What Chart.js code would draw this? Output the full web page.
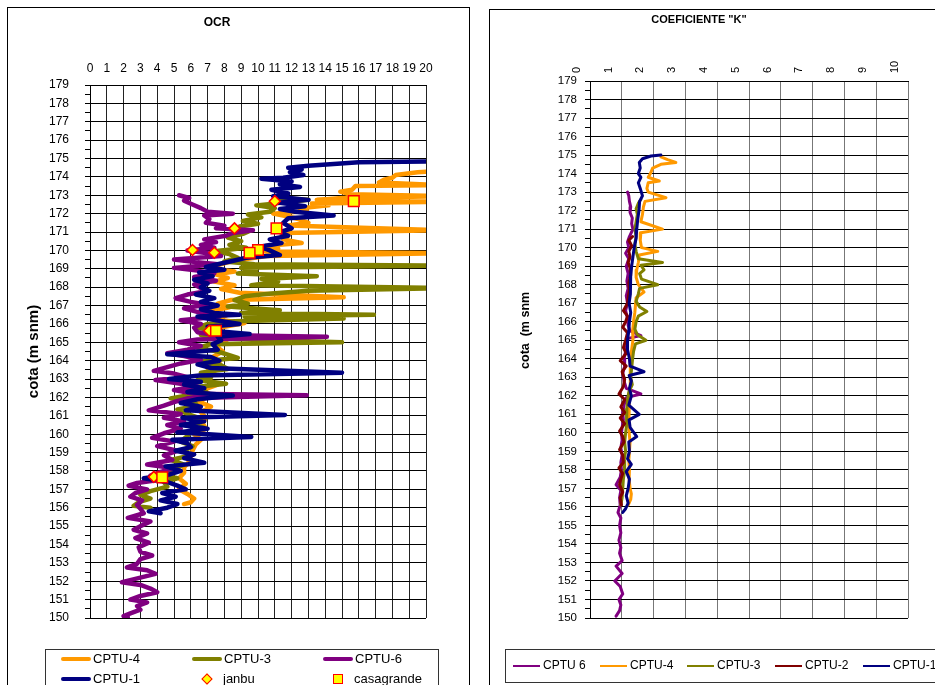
<!DOCTYPE html>
<html>
<head>
<meta charset="utf-8" />
<title>OCR y coeficiente K</title>
<script src="https://cdn.jsdelivr.net/npm/chart.js"></script>
<style>
  body { margin: 0; background: #fff; font-family: 'Liberation Sans', Arial, sans-serif; color: #000; }
  .panel { position: absolute; border: 1px solid #000; background: #fff; overflow: hidden; }
  .legend { position: absolute; border: 1px solid #333; background: #fff; }
  .item { position: absolute; white-space: nowrap; }
  .ln { position: absolute; }
</style>
</head>
<body>
<div class="panel" style="left:7px; top:7px; width:461px; height:700px;">
  <canvas id="ocrChart" width="461" height="677"></canvas>
</div>
<div class="panel" style="left:489px; top:9px; width:480px; height:700px;">
  <canvas id="kChart" width="480" height="675"></canvas>
</div>
<div id="legends"></div>
<script>
const FONT = "'Liberation Sans', Arial, sans-serif";

// cota range (m snm)
const cotaMin = 150;
const cotaMax = 179;

// ---- OCR panel: [cota, OCR] ----
const ocrCptu4 = [
  [174.35, 21], [174.25, 19.5], [174.1, 18.2], [173.95, 18], [173.85, 17.5], [173.7, 17.2], [173.55, 21],
  [173.5, 15.8], [173.3, 15.6], [173.2, 14.9], [173.05, 15.5], [172.95, 21], [172.85, 15], [172.75, 13.5],
  [172.65, 21], [172.55, 13.2], [172.45, 14.2], [172.3, 12.5], [172.15, 12.9], [172.0, 10.9], [171.85, 11.8],
  [171.7, 12.4], [171.5, 13], [171.35, 11.8], [171.1, 21], [170.95, 11.5], [170.8, 11.8], [170.6, 11.5],
  [170.4, 12.6], [170.25, 10.5], [170.1, 11.2], [169.95, 9.8], [169.85, 21], [169.7, 10.5], [169.55, 9.4],
  [169.35, 8.2], [169.2, 7.6], [169.0, 7.2], [168.85, 8.6], [168.7, 7.5], [168.5, 8.2], [168.3, 7.4],
  [168.1, 8.6], [167.9, 7.8], [167.7, 8.9], [167.45, 15.1], [167.3, 8.4], [167.1, 7.6], [166.9, 8.3],
  [166.7, 7.2], [166.45, 8.1], [166.25, 7.4], [166.05, 9.2], [165.85, 8.0], [165.65, 7.6], [165.45, 8.3],
  [165.25, 7.8], [165.05, 8.1], [164.8, 7.5], [164.5, 7.9], [164.2, 7.3], [163.9, 7.7], [163.6, 7.0],
  [163.3, 7.4], [163.0, 6.9], [162.7, 7.6], [162.4, 6.7], [162.1, 7.3], [161.8, 6.4], [161.5, 7.2],
  [161.2, 6.6], [160.9, 6.9], [160.6, 6.7], [160.3, 6.9], [160.0, 6.2], [159.7, 6.6], [159.45, 6.3],
  [159.1, 6.1], [158.8, 6.0], [158.5, 5.9], [158.2, 5.6], [157.9, 5.6], [157.6, 5.3], [157.3, 5.7],
  [157.0, 5.3], [156.75, 5.8], [156.5, 6.2], [156.3, 6.0], [156.2, 5.6]
];
const ocrCptu3 = [
  [172.85, 11.2], [172.75, 13.0], [172.6, 11.5], [172.45, 9.9], [172.3, 11.0], [172.1, 10.7], [171.95, 9.4],
  [171.8, 10.2], [171.6, 9.1], [171.45, 10.0], [171.3, 8.9], [171.1, 9.6], [170.9, 9.1], [170.7, 8.2],
  [170.5, 9.0], [170.3, 8.3], [170.15, 9.3], [169.95, 7.4], [169.8, 8.3], [169.6, 8.8], [169.4, 8.0],
  [169.25, 9.8], [169.17, 21], [169.05, 9.0], [168.9, 9.9], [168.75, 8.8], [168.6, 13.5], [168.45, 10.2],
  [168.3, 11.2], [168.1, 9.6], [167.95, 21], [167.8, 13.0], [167.65, 10.8], [167.5, 9.2], [167.3, 8.6],
  [167.1, 9.4], [166.95, 8.2], [166.75, 11.3], [166.6, 9.0], [166.5, 16.9], [166.4, 9.2], [166.3, 15.1],
  [166.15, 8.6], [166.0, 7.0], [165.8, 6.4], [165.6, 7.4], [165.4, 6.6], [165.2, 7.5], [165.0, 15.0],
  [164.9, 7.2], [164.7, 6.4], [164.5, 7.6], [164.15, 8.8], [163.95, 6.4], [163.75, 7.8], [163.55, 8.2],
  [163.35, 6.6], [163.1, 7.2], [162.95, 6.4], [162.75, 8.1], [162.55, 6.2], [162.3, 6.9], [161.95, 4.8],
  [161.75, 6.2], [161.55, 6.4], [161.35, 5.2], [161.1, 5.8], [160.85, 6.6], [160.6, 6.0], [160.35, 6.8],
  [160.1, 6.0], [159.9, 5.8], [159.6, 5.4], [159.35, 6.1], [159.1, 5.6], [158.85, 6.0], [158.6, 4.8],
  [158.35, 5.6], [158.1, 5.0], [157.85, 4.0], [157.6, 5.2], [157.4, 4.4], [157.15, 4.6], [156.9, 3.6],
  [156.7, 3.0], [156.5, 3.6], [156.3, 2.9], [156.1, 2.6], [156.0, 3.6]
];
const ocrCptu6 = [
  [173.0, 5.3], [172.85, 5.9], [172.7, 5.6], [172.5, 6.1], [172.3, 6.6], [172.1, 7.0], [172.0, 8.5],
  [171.9, 6.8], [171.7, 7.1], [171.5, 6.9], [171.35, 8.0], [171.2, 7.5], [171.1, 9.7], [170.95, 8.5],
  [170.8, 8.1], [170.6, 6.8], [170.45, 7.5], [170.3, 6.6], [170.15, 7.4], [170.0, 5.8], [169.85, 7.0],
  [169.7, 7.8], [169.5, 5.0], [169.35, 6.4], [169.25, 7.6], [169.05, 5.0], [168.9, 6.4], [168.75, 7.4],
  [168.55, 6.2], [168.35, 7.5], [168.15, 6.2], [167.95, 6.6], [167.8, 7.0], [167.6, 5.8], [167.4, 5.1],
  [167.2, 6.0], [167.05, 7.0], [166.85, 5.6], [166.6, 6.6], [166.4, 7.7], [166.2, 5.4], [166.0, 6.6],
  [165.8, 6.2], [165.55, 6.4], [165.4, 7.4], [165.3, 14.1], [165.15, 6.4], [165.0, 5.3], [164.8, 6.6],
  [164.6, 5.8], [164.4, 4.6], [164.25, 5.6], [164.05, 6.6], [163.85, 5.4], [163.65, 4.6], [163.45, 3.8],
  [163.3, 5.0], [163.1, 5.8], [162.95, 3.9], [162.75, 5.4], [162.6, 6.4], [162.4, 5.0], [162.2, 6.2],
  [162.12, 12.9], [161.95, 5.8], [161.75, 5.0], [161.55, 4.4], [161.3, 3.5], [161.1, 5.4], [160.9, 4.4],
  [160.7, 5.6], [160.5, 4.6], [160.3, 5.4], [160.05, 4.4], [159.8, 3.7], [159.6, 5.0], [159.35, 4.0],
  [159.1, 5.2], [158.85, 4.4], [158.6, 4.9], [158.35, 3.4], [158.15, 5.0], [157.95, 4.2], [157.75, 3.6],
  [157.55, 4.4], [157.35, 2.8], [157.2, 2.3], [157.0, 3.4], [156.8, 2.7], [156.6, 2.4], [156.4, 3.1],
  [156.15, 2.8], [155.95, 3.0], [155.7, 3.2], [155.45, 2.25], [155.25, 3.6], [155.0, 3.0], [154.8, 2.6],
  [154.6, 3.4], [154.35, 2.7], [154.1, 3.5], [153.85, 2.9], [153.6, 3.0], [153.4, 3.7], [153.2, 3.0],
  [152.95, 2.8], [152.75, 2.2], [152.6, 3.4], [152.4, 3.9], [152.2, 3.0], [151.95, 1.9], [151.8, 3.0],
  [151.6, 3.6], [151.4, 4.0], [151.2, 3.0], [151.0, 2.4], [150.85, 3.4], [150.65, 2.8], [150.45, 3.0],
  [150.25, 2.4], [150.1, 2.0], [150.05, 2.25]
];
const ocrCptu1 = [
  [174.85, 21], [174.8, 16], [174.6, 13], [174.5, 11.8], [174.4, 12.6], [174.25, 11.9], [174.1, 12.7],
  [173.95, 11.5], [173.9, 10.2], [173.75, 12], [173.6, 11.3], [173.45, 12.5], [173.3, 10.8], [173.1, 11.8],
  [172.95, 10.9], [172.75, 13], [172.6, 11.2], [172.4, 12.8], [172.25, 11.3], [172.1, 12.2], [171.9, 14.5],
  [171.75, 11.8], [171.5, 11.5], [171.2, 12], [171.0, 11.3], [170.8, 11.8], [170.6, 10.7], [170.4, 11.4],
  [170.2, 10.1], [170.0, 10.7], [169.75, 11.3], [169.6, 9.3], [169.45, 8.6], [169.25, 7.6], [169.1, 6.9],
  [168.95, 8.0], [168.8, 6.5], [168.6, 7.3], [168.4, 6.2], [168.2, 7.0], [168.0, 6.6], [167.8, 7.1],
  [167.6, 6.3], [167.4, 7.4], [167.2, 6.6], [167.0, 7.6], [166.8, 6.6], [166.6, 7.4], [166.5, 8.9],
  [166.4, 6.4], [166.2, 7.5], [166.0, 8.9], [165.85, 7.0], [165.6, 7.6], [165.45, 9.5], [165.3, 7.6],
  [165.1, 7.8], [164.9, 7.3], [164.6, 7.6], [164.35, 4.6], [164.2, 7.2], [164.0, 7.7], [163.8, 6.4],
  [163.6, 7.2], [163.35, 15], [163.2, 6.5], [163.0, 4.7], [162.85, 6.6], [162.7, 5.6], [162.5, 6.8],
  [162.3, 5.8], [162.1, 8.5], [161.9, 6.4], [161.7, 5.4], [161.5, 6.6], [161.3, 5.7], [161.05, 11.6],
  [160.9, 5.5], [160.7, 6.8], [160.5, 5.4], [160.3, 7.0], [160.1, 5.2], [159.85, 9.6], [159.7, 4.9],
  [159.5, 5.8], [159.3, 6.0], [159.1, 5.1], [158.9, 6.2], [158.7, 5.6], [158.45, 6.8], [158.25, 4.5],
  [158.0, 5.4], [157.8, 4.7], [157.6, 3.2], [157.4, 4.6], [157.2, 5.2], [157.0, 5.7], [156.8, 4.3],
  [156.6, 5.1], [156.4, 4.2], [156.2, 5.2], [156.0, 4.6], [155.8, 3.5], [155.7, 4.2]
];
const ocrJanbu = [[172.68, 11.0], [171.2, 8.6], [170.02, 6.1], [169.87, 7.4], [165.63, 7.1], [157.68, 3.8]];
const ocrCasagrande = [[172.68, 15.7], [171.2, 11.1], [170.02, 10.0], [169.87, 9.5], [165.63, 7.5], [157.65, 4.3]];

// ---- K panel: [cota, K] ----
const kCptu6 = [
  [173.0, 1.18], [172.8, 1.22], [172.5, 1.24], [172.2, 1.28], [171.9, 1.26], [171.6, 1.33], [171.3, 1.31],
  [171.0, 1.35], [170.6, 1.24], [170.3, 1.18], [170.0, 1.22], [169.7, 1.12], [169.4, 1.22], [169.0, 1.14],
  [168.6, 1.2], [168.2, 1.16], [167.8, 1.2], [167.4, 1.14], [167.0, 1.18], [166.6, 1.12], [166.2, 1.18],
  [165.8, 1.2], [165.5, 1.26], [165.25, 1.6], [165.1, 1.2], [164.8, 1.16], [164.4, 1.12], [164.0, 1.07],
  [163.6, 1.09], [163.2, 1.03], [162.8, 1.07], [162.4, 1.14], [162.1, 1.6], [161.9, 1.14], [161.5, 1.07],
  [161.1, 1.03], [160.7, 1.05], [160.3, 1.01], [160.0, 0.99], [159.6, 1.01], [159.2, 0.97], [158.8, 1.01],
  [158.4, 0.97], [158.0, 0.99], [157.6, 0.95], [157.2, 0.82], [156.9, 0.97], [156.5, 0.93], [156.1, 0.95],
  [155.7, 0.88], [155.4, 0.97], [155.0, 0.93], [154.6, 0.97], [154.2, 0.91], [153.8, 0.97], [153.5, 0.93],
  [153.1, 1.01], [152.8, 0.82], [152.4, 1.01], [152.0, 0.78], [151.7, 0.95], [151.3, 1.03], [151.0, 0.91],
  [150.7, 0.97], [150.4, 0.93], [150.1, 0.82]
];
const kCptu4 = [
  [174.9, 2.23], [174.75, 2.44], [174.6, 2.7], [174.5, 2.23], [174.3, 1.97], [174.0, 1.9], [173.8, 1.83],
  [173.6, 2.18], [173.5, 1.83], [173.2, 1.79], [173.0, 1.83], [172.7, 2.39], [172.5, 1.73], [172.2, 1.68],
  [171.8, 1.65], [171.4, 1.6], [171.0, 2.28], [170.8, 1.6], [170.4, 1.58], [170.0, 1.62], [169.8, 2.13],
  [169.6, 1.55], [169.2, 1.52], [168.8, 1.47], [168.4, 1.45], [168.0, 1.52], [167.6, 1.7], [167.3, 1.45],
  [166.9, 1.43], [166.5, 1.41], [166.0, 1.37], [165.5, 1.34], [165.0, 1.35], [164.5, 1.31], [164.0, 1.28],
  [163.5, 1.26], [163.0, 1.28], [162.5, 1.26], [162.0, 1.24], [161.5, 1.23], [161.0, 1.23], [160.5, 1.22],
  [160.0, 1.23], [159.5, 1.26], [159.0, 1.24], [158.5, 1.22], [158.0, 1.24], [157.5, 1.23], [157.0, 1.26],
  [156.7, 1.3], [156.4, 1.28], [156.1, 1.2]
];
const kCptu3 = [
  [172.6, 1.6], [172.4, 1.52], [172.1, 1.45], [171.8, 1.49], [171.4, 1.45], [171.0, 1.41], [170.6, 1.45],
  [170.2, 1.41], [169.8, 1.45], [169.4, 1.52], [169.2, 2.28], [169.05, 1.6], [168.8, 1.7], [168.6, 1.56],
  [168.3, 1.62], [168.0, 2.13], [167.8, 1.56], [167.5, 1.52], [167.1, 1.45], [166.8, 1.56], [166.55, 1.79],
  [166.3, 1.52], [166.0, 1.45], [165.6, 1.41], [165.3, 1.49], [165.0, 1.76], [164.8, 1.43], [164.4, 1.37],
  [164.0, 1.34], [163.5, 1.31], [163.0, 1.28], [162.6, 1.33], [162.2, 1.22], [161.8, 1.18], [161.3, 1.16],
  [160.9, 1.14], [160.4, 1.16], [160.0, 1.12], [159.5, 1.09], [159.0, 1.12], [158.5, 1.07], [158.0, 1.09],
  [157.5, 1.05], [157.0, 1.03], [156.5, 1.01], [156.1, 0.97]
];
const kCptu2 = [
  [170.6, 1.34], [170.4, 1.22], [170.1, 1.31], [169.8, 1.22], [169.5, 1.26], [169.2, 1.2], [168.9, 1.26],
  [168.5, 1.28], [168.1, 1.22], [167.7, 1.24], [167.3, 1.2], [167.0, 1.18], [166.6, 1.05], [166.3, 1.18],
  [166.0, 1.12], [165.7, 1.03], [165.4, 1.18], [165.0, 1.12], [164.6, 1.05], [164.3, 1.14], [163.9, 0.95],
  [163.6, 1.14], [163.3, 1.01], [162.9, 1.09], [162.5, 1.05], [162.1, 0.91], [161.8, 1.09], [161.4, 0.97],
  [161.1, 1.09], [160.8, 0.95], [160.5, 1.09], [160.1, 0.93], [159.8, 1.03], [159.5, 1.07], [159.1, 0.93],
  [158.8, 1.03], [158.4, 1.05], [158.1, 0.91], [157.8, 1.03], [157.5, 0.97], [157.2, 0.93], [156.8, 1.03],
  [156.5, 0.95], [156.1, 0.99]
];
const kCptu1 = [
  [175.0, 2.23], [174.95, 1.92], [174.8, 1.65], [174.6, 1.55], [174.3, 1.58], [174.0, 1.52], [173.8, 1.6],
  [173.5, 1.52], [173.2, 1.58], [172.8, 1.65], [172.5, 1.56], [172.0, 1.54], [171.5, 1.5], [171.0, 1.47],
  [170.5, 1.45], [170.0, 1.39], [169.5, 1.35], [169.0, 1.31], [168.5, 1.28], [168.0, 1.26], [167.5, 1.28],
  [167.0, 1.23], [166.5, 1.28], [166.0, 1.24], [165.5, 1.22], [165.0, 1.18], [164.5, 1.18], [164.0, 1.24],
  [163.6, 1.26], [163.3, 1.7], [163.1, 1.23], [162.8, 1.3], [162.4, 1.24], [162.0, 1.3], [161.5, 1.22],
  [161.0, 1.55], [160.7, 1.23], [160.3, 1.26], [159.8, 1.47], [159.5, 1.22], [159.0, 1.24], [158.6, 1.18],
  [158.3, 1.3], [157.9, 1.14], [157.5, 1.24], [157.0, 1.2], [156.6, 1.14], [156.2, 1.2], [155.9, 1.12],
  [155.7, 1.03]
];

const COLORS = { cptu4: '#FF9900', cptu3: '#808000', cptu6: '#800080', cptu1: '#000080', cptu2: '#800000' };

function toPts(arr) {
  return arr.map(p => ({ x: p[1], y: p[0] }));
}
function trace(label, arr, color, width) {
  return {
    label, data: toPts(arr), showLine: true, borderColor: color, backgroundColor: color,
    borderWidth: width, pointRadius: 0, borderJoinStyle: 'round', borderCapStyle: 'round'
  };
}
function markers(label, arr, style, radius) {
  return {
    label, data: toPts(arr), showLine: false, pointStyle: style, pointRadius: radius,
    pointBackgroundColor: '#FFFF00', pointBorderColor: '#FF0000', pointBorderWidth: 1.5
  };
}
function cotaAxis(width, fontSize, tickPad, titleText, titleSize, titlePad) {
  return {
    type: 'linear', min: cotaMin, max: cotaMax,
    afterFit: s => { s.width = width; },
    ticks: {
      stepSize: 0.5, autoSkip: false, padding: tickPad, color: '#000',
      font: { family: FONT, size: fontSize },
      callback: v => (v % 1 === 0 ? v : '')
    },
    grid: {
      color: ctx => (ctx.tick && ctx.tick.value % 1 !== 0) ? 'rgba(0,0,0,0)' : '#000',
      tickColor: '#000', tickLength: 5
    },
    border: { color: '#000' },
    title: { display: true, text: titleText, color: '#000', font: { family: FONT, size: titleSize, weight: 'bold' }, padding: { top: titlePad, bottom: 0 } }
  };
}

// OCR chart: datasets listed top-most first
new Chart(document.getElementById('ocrChart'), {
  type: 'scatter',
  data: {
    datasets: [
      markers('casagrande', ocrCasagrande, 'rect', 7.5),
      markers('janbu', ocrJanbu, 'rectRot', 5.5),
      trace('CPTU-1', ocrCptu1, COLORS.cptu1, 4.5),
      trace('CPTU-6', ocrCptu6, COLORS.cptu6, 4.5),
      trace('CPTU-3', ocrCptu3, COLORS.cptu3, 4.5),
      trace('CPTU-4', ocrCptu4, COLORS.cptu4, 4.5)
    ]
  },
  options: {
    responsive: false, animation: false, devicePixelRatio: 1,
    layout: { padding: { left: 0, right: 43, top: 0, bottom: 67 } },
    plugins: {
      legend: { display: false }, tooltip: { enabled: false },
      title: { display: true, text: 'OCR', color: '#000', font: { family: FONT, size: 12, weight: 'bold' }, padding: { top: 7.5, bottom: 0 } }
    },
    scales: {
      x: {
        type: 'linear', position: 'top', min: 0, max: 20,
        afterFit: s => { s.height = 55.1; },
        ticks: { stepSize: 1, autoSkip: false, maxRotation: 0, padding: 9, color: '#000', font: { family: FONT, size: 12 } },
        grid: { color: '#222', drawTicks: false },
        border: { color: '#000' }
      },
      y: cotaAxis(82, 12, 16, 'cota (m snm)', 15, 17)
    }
  }
});

// K chart
new Chart(document.getElementById('kChart'), {
  type: 'scatter',
  data: {
    datasets: [
      trace('CPTU-1', kCptu1, COLORS.cptu1, 3),
      trace('CPTU-2', kCptu2, COLORS.cptu2, 3),
      trace('CPTU-3', kCptu3, COLORS.cptu3, 3),
      trace('CPTU-4', kCptu4, COLORS.cptu4, 3),
      trace('CPTU 6', kCptu6, COLORS.cptu6, 3)
    ]
  },
  options: {
    responsive: false, animation: false, devicePixelRatio: 1,
    layout: { padding: { left: 0, right: 62, top: 0, bottom: 67 } },
    plugins: {
      legend: { display: false }, tooltip: { enabled: false },
      title: { display: true, text: 'COEFICIENTE "K"', color: '#000', font: { family: FONT, size: 11, weight: 'bold' }, padding: { top: 3, bottom: 0 } }
    },
    scales: {
      x: {
        type: 'linear', position: 'top', min: 0, max: 10,
        afterFit: s => { s.height = 54.8; },
        ticks: { stepSize: 1, autoSkip: false, minRotation: 90, maxRotation: 90, padding: 8, color: '#000', font: { family: FONT, size: 11 } },
        grid: { color: '#777', drawTicks: false },
        border: { color: '#000' }
      },
      y: cotaAxis(100, 11.5, 8, '           cota  (m snm', 12.5, 28.5)
    }
  }
});

// legends (HTML, positioned like the original)
const ocrLegend = [
  { text: 'CPTU-4', color: COLORS.cptu4, x: 61, y: 659 },
  { text: 'CPTU-3', color: COLORS.cptu3, x: 192, y: 659 },
  { text: 'CPTU-6', color: COLORS.cptu6, x: 323, y: 659 },
  { text: 'CPTU-1', color: COLORS.cptu1, x: 61, y: 679 },
  { text: 'janbu', marker: 'diamond', x: 207, tx: 223, y: 679 },
  { text: 'casagrande', marker: 'square', x: 338, tx: 354, y: 679 }
];
const kLegend = [
  { text: 'CPTU 6', color: COLORS.cptu6, x: 513 },
  { text: 'CPTU-4', color: COLORS.cptu4, x: 600 },
  { text: 'CPTU-3', color: COLORS.cptu3, x: 687 },
  { text: 'CPTU-2', color: COLORS.cptu2, x: 775 },
  { text: 'CPTU-1', color: COLORS.cptu1, x: 863 }
];

function buildLegends() {
  const host = document.getElementById('legends');
  let html = '<div class="legend" style="left:45px; top:649px; width:392px; height:60px;"></div>';
  html += '<div class="legend" style="left:505px; top:649px; width:460px; height:32px;"></div>';
  ocrLegend.forEach(it => {
    if (it.marker === 'diamond') {
      html += `<div class="ln" style="left:${it.x - 4}px; top:${it.y - 4}px; width:6px; height:6px; background:#FFFF00; border:1.5px solid #FF0000; transform:rotate(45deg);"></div>`;
    } else if (it.marker === 'square') {
      html += `<div class="ln" style="left:${it.x - 5}px; top:${it.y - 5}px; width:8px; height:8px; background:#FFFF00; border:1.5px solid #FF0000;"></div>`;
    } else {
      html += `<div class="ln" style="left:${it.x}px; top:${it.y - 2}px; width:30px; height:4px; background:${it.color}; border-radius:2px;"></div>`;
    }
    const tx = it.tx || it.x + 32;
    html += `<div class="item" style="left:${tx}px; top:${it.y - 8}px; font-size:13px; line-height:16px;">${it.text}</div>`;
  });
  kLegend.forEach(it => {
    html += `<div class="ln" style="left:${it.x}px; top:664.5px; width:27px; height:2.5px; background:${it.color};"></div>`;
    html += `<div class="item" style="left:${it.x + 30}px; top:658px; font-size:12px; line-height:15px;">${it.text}</div>`;
  });
  host.innerHTML = html;
}
buildLegends();
</script>
</body>
</html>
